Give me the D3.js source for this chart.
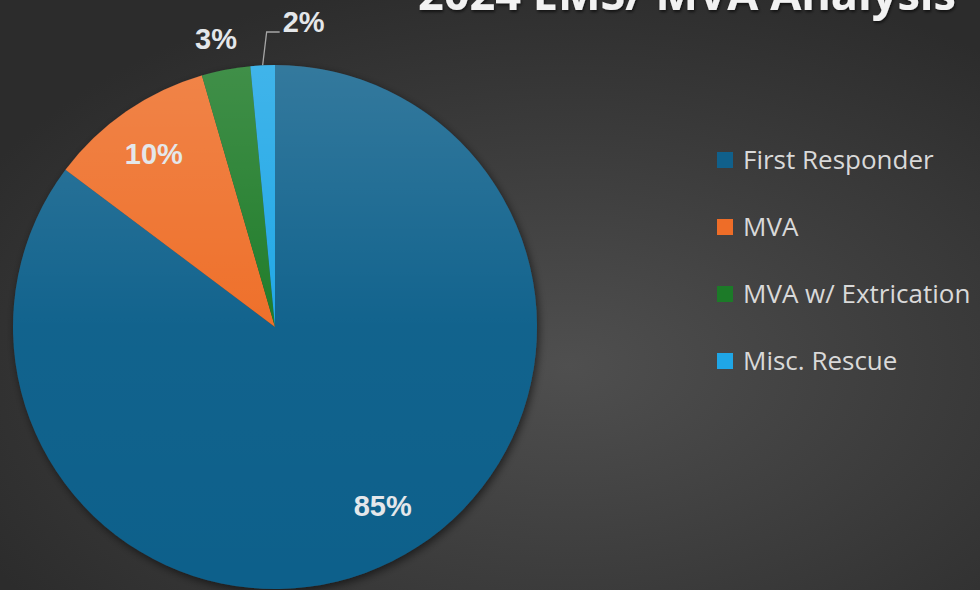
<!DOCTYPE html>
<html>
<head>
<meta charset="utf-8">
<script src="https://cdn.jsdelivr.net/npm/d3@7"></script>
<style>
  html, body { margin: 0; padding: 0; background: #3a3a3a; }
  svg { display: block; }
  .pctLabel { font-family: "Liberation Sans", Arial, sans-serif; font-weight: bold; font-size: 29px; fill: #e4e7ea; }
  .legendText { font-family: "Open Sans", sans-serif; font-size: 26px; fill: #d9d9d9; }
  .title { font-family: "Open Sans", sans-serif; font-weight: bold; font-size: 44px; fill: #f2f2f2; }
</style>
</head>
<body>
<svg id="chart" width="980" height="590"></svg>
<script>
  // chart data
  const categories = ["First Responder", "MVA", "MVA w/ Extrication", "Misc. Rescue"];
  const counts = [341, 41, 12, 6];
  const colors = ["#10608b", "#ee6d28", "#1c7a28", "#1fa6e6"];
  const title = "2024 EMS/ MVA Analysis";

  const width = 980, height = 590;
  const cx = 275, cy = 327, radius = 262;

  const svg = d3.select("#chart");
  const defs = svg.append("defs");

  // background
  const bg = defs.append("radialGradient").attr("id", "bgGrad")
    .attr("cx", "58%").attr("cy", "62%").attr("r", "68%");
  bg.append("stop").attr("offset", "0%").attr("stop-color", "#4f4f4f");
  bg.append("stop").attr("offset", "100%").attr("stop-color", "#2c2c2c");
  svg.append("rect").attr("width", width).attr("height", height).attr("fill", "url(#bgGrad)");

  const shine = defs.append("linearGradient").attr("id", "shine")
    .attr("x1", 0).attr("y1", 0).attr("x2", 0).attr("y2", 1);
  shine.append("stop").attr("offset", "0%").attr("stop-color", "#fff").attr("stop-opacity", 0.16);
  shine.append("stop").attr("offset", "50%").attr("stop-color", "#fff").attr("stop-opacity", 0.02);
  shine.append("stop").attr("offset", "100%").attr("stop-color", "#fff").attr("stop-opacity", 0);

  const shadow = defs.append("filter").attr("id", "shadow")
    .attr("x", "-20%").attr("y", "-20%").attr("width", "140%").attr("height", "140%");
  shadow.append("feDropShadow").attr("dx", 2).attr("dy", 3).attr("stdDeviation", 4)
    .attr("flood-color", "#000").attr("flood-opacity", 0.55);

  const txtShadow = defs.append("filter").attr("id", "txtShadow");
  txtShadow.append("feDropShadow").attr("dx", 1).attr("dy", 2).attr("stdDeviation", 1.5)
    .attr("flood-color", "#000").attr("flood-opacity", 0.6);

  const total = d3.sum(counts);
  const pieData = d3.pie().sort(null).value(d => d)(counts);
  const arc = d3.arc().innerRadius(0).outerRadius(radius);
  const labelArc = d3.arc().innerRadius(radius * 0.8).outerRadius(radius * 0.8);

  const g = svg.append("g").attr("transform", `translate(${cx},${cy})`);
  const slices = g.append("g").attr("filter", "url(#shadow)");
  slices.selectAll("path.slice").data(pieData).join("path")
    .attr("class", "slice")
    .attr("d", arc)
    .attr("fill", (d, i) => colors[i]);
  g.append("circle").attr("r", radius).attr("fill", "url(#shine)");

  // percent labels
  const pct = d => Math.round(d.value / total * 100) + "%";
  const nudge = [[14, -9], [-2, -1]];
  pieData.forEach((d, i) => {
    const mid = (d.startAngle + d.endAngle) / 2;
    if (i < 2) {
      const [x, y] = labelArc.centroid(d);
      g.append("text").attr("class", "pctLabel")
        .attr("x", x + nudge[i][0]).attr("y", y + nudge[i][1])
        .attr("text-anchor", "middle").attr("dy", "0.36em")
        .text(pct(d));
    } else if (i === 2) {
      const r = radius * 1.12;
      g.append("text").attr("class", "pctLabel")
        .attr("x", r * Math.sin(mid) - 4).attr("y", -r * Math.cos(mid))
        .attr("text-anchor", "middle").attr("dy", "0.36em")
        .text(pct(d));
    } else {
      // leader line for the small slice
      const x0 = radius * Math.sin(mid), y0 = -radius * Math.cos(mid);
      const ey = -295;
      const ex = x0 + 4;
      g.append("polyline")
        .attr("points", [[x0, y0], [ex, ey], [ex + 13, ey]].map(p => p.join(",")).join(" "))
        .attr("fill", "none").attr("stroke", "#a6a6a6").attr("stroke-width", 1.3);
      g.append("text").attr("class", "pctLabel")
        .attr("x", ex + 16).attr("y", ey)
        .text(pct(d));
    }
  });

  // legend
  const legend = svg.append("g").attr("transform", "translate(717,160)");
  const rowY = d3.scalePoint().domain(categories).range([0, 201]);
  const items = legend.selectAll("g").data(categories).join("g")
    .attr("transform", d => `translate(0,${rowY(d)})`);
  items.append("rect").attr("x", 0).attr("y", -8).attr("width", 16).attr("height", 16)
    .attr("fill", (d, i) => colors[i]);
  items.append("text").attr("class", "legendText")
    .attr("x", 26).attr("y", 0).attr("dy", "0.35em").text(d => d);

  // title (cropped at the top)
  svg.append("text").attr("class", "title")
    .attr("x", 418).attr("y", 10)
    .attr("textLength", 538).attr("lengthAdjust", "spacingAndGlyphs")
    .attr("filter", "url(#txtShadow)")
    .text(title);
</script>
</body>
</html>
